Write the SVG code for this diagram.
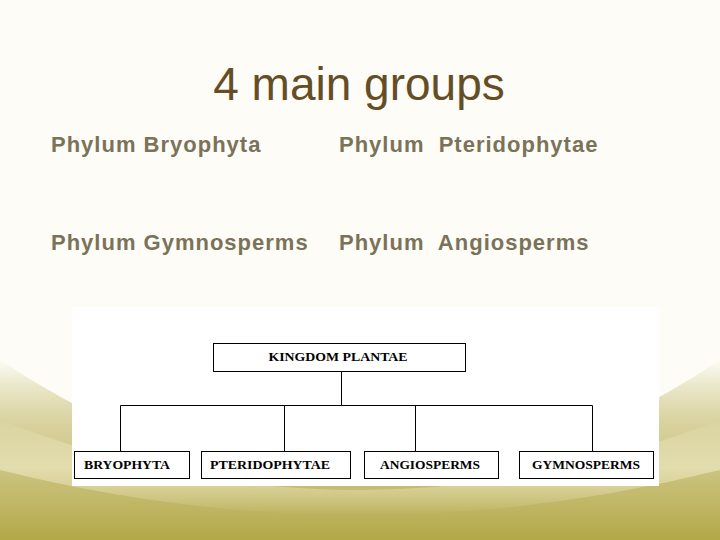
<svg xmlns="http://www.w3.org/2000/svg" width="720" height="540" viewBox="0 0 720 540">
<style>
.title{font-family:"Liberation Sans",Arial,sans-serif;font-size:46px;fill:#654e26}
.phy{font-family:"Liberation Sans",Arial,sans-serif;font-size:22px;font-weight:bold;letter-spacing:1px;fill:#7a735a}
.box{fill:#fff;stroke:#000;stroke-width:1}
.lbl{font-family:"Liberation Serif","Times New Roman",serif;font-size:12px;font-weight:bold;fill:#000}
.conn{fill:none;stroke:#000;stroke-width:1}
</style>
<defs>
<linearGradient id="olive" x1="0" y1="0" x2="0" y2="1">
<stop offset="0" stop-color="#b8ad4f" stop-opacity="0"/>
<stop offset="0.35" stop-color="#c9c07a" stop-opacity="0.7"/>
<stop offset="1" stop-color="#b3a847"/>
</linearGradient>
<linearGradient id="band" x1="0" y1="0" x2="0" y2="1">
<stop offset="0" stop-color="#fffbe8" stop-opacity="0.0"/>
<stop offset="0.5" stop-color="#f2ecc8" stop-opacity="0.6"/>
<stop offset="1" stop-color="#fffbe8" stop-opacity="0"/>
</linearGradient>
</defs>
<rect x="0" y="0" width="720" height="540" fill="#fdfcf6"/>
<path d="M0,360 Q360,600 720,360 L720,540 L0,540 Z" fill="url(#olive)"/>
<path d="M0,420 Q360,560 720,420 L720,470 Q360,560 0,470 Z" fill="url(#band)"/>
<text class="title" x="359" y="100" text-anchor="middle">4 main groups</text>
<text class="phy" x="51" y="152">Phylum Bryophyta</text>
<text class="phy" x="339" y="152" xml:space="preserve">Phylum  Pteridophytae</text>
<text class="phy" x="51" y="250">Phylum Gymnosperms</text>
<text class="phy" x="339" y="250" xml:space="preserve">Phylum  Angiosperms</text>
<rect x="72" y="307" width="587" height="179" fill="#fff"/>
<g id="connectors">
<path class="conn" d="M341.5,371 V405.5 M120.5,451 V405.5 H592.5 V451 M284.5,405.5 V451 M415.5,405.5 V451"/>
</g>
<g id="kingdom">
<rect class="box" x="213.5" y="343.5" width="252" height="28"/>
<text class="lbl" x="338" y="361" text-anchor="middle" textLength="139" lengthAdjust="spacingAndGlyphs">KINGDOM PLANTAE</text>
</g>
<g id="bryophyta">
<rect class="box" x="74.5" y="451.5" width="115" height="27"/>
<text class="lbl" x="84" y="469" textLength="86" lengthAdjust="spacingAndGlyphs">BRYOPHYTA</text>
</g>
<g id="pteridophytae">
<rect class="box" x="201.5" y="451.5" width="149" height="27"/>
<text class="lbl" x="210" y="469" textLength="120" lengthAdjust="spacingAndGlyphs">PTERIDOPHYTAE</text>
</g>
<g id="angiosperms">
<rect class="box" x="364.5" y="451.5" width="134" height="27"/>
<text class="lbl" x="380" y="469" textLength="100" lengthAdjust="spacingAndGlyphs">ANGIOSPERMS</text>
</g>
<g id="gymnosperms">
<rect class="box" x="519.5" y="451.5" width="134" height="27"/>
<text class="lbl" x="532" y="469" textLength="108" lengthAdjust="spacingAndGlyphs">GYMNOSPERMS</text>
</g>
</svg>
